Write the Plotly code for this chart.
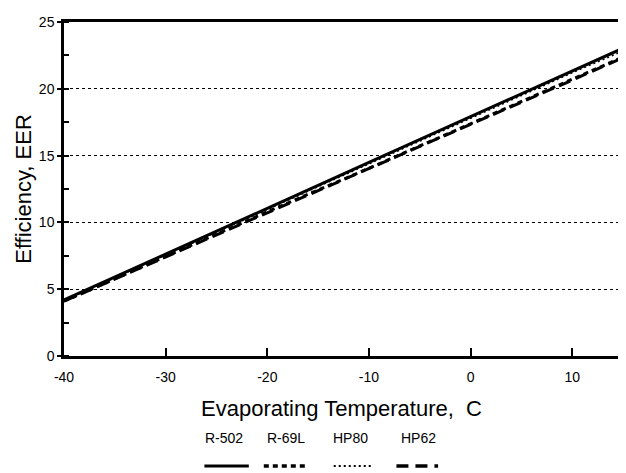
import plotly.graph_objects as go

# Data
temps = [-40, -30, -20, -10, 0, 10, 14.6]
eer_r502 = [4.2, 7.6, 11.05, 14.5, 17.9, 21.35, 22.9]
eer_r69l = [4.1, 7.45, 10.8, 14.05, 17.4, 20.7, 22.25]
eer_hp80 = [4.15, 7.55, 10.95, 14.35, 17.75, 21.2, 22.7]
eer_hp62 = [4.1, 7.4, 10.7, 14.0, 17.35, 20.65, 22.2]

series = [
    ("R-502", eer_r502, dict(color="black", width=3, dash="solid")),
    ("R-69L", eer_r69l, dict(color="black", width=3, dash="5px,4px")),
    ("HP80", eer_hp80, dict(color="black", width=1.5, dash="2px,3px")),
    ("HP62", eer_hp62, dict(color="black", width=3, dash="12px,6px")),
]

x_ticks = [-40, -30, -20, -10, 0, 10]
x_tick_labels = ["-40", "-30", "-20", "-10", "0", "10"]
y_ticks = [0, 5, 10, 15, 20, 25]

fig = go.Figure()
for name, vals, line in series:
    fig.add_trace(go.Scatter(x=temps, y=vals, mode="lines", name=name,
                             line=line, showlegend=False))

font_family = "Liberation Sans, Arial, sans-serif"

fig.update_layout(
    width=618, height=465,
    margin=dict(l=56, r=4, t=14, b=117),
    paper_bgcolor="white", plot_bgcolor="white",
    font=dict(family=font_family, color="black"),
    xaxis=dict(
        range=[-40, 14.6], tickvals=x_ticks, ticktext=x_tick_labels,
        ticks="inside", ticklen=8, tickwidth=1.5, tickcolor="black",
        showline=True, linecolor="black", linewidth=2.5, mirror=True,
        showgrid=False, zeroline=False,
        tickfont=dict(size=14), ticklabelstandoff=6,
        title=dict(text="Evaporating Temperature,  C", font=dict(size=22), standoff=18),
    ),
    yaxis=dict(
        range=[0, 25], tickvals=y_ticks,
        ticks="outside", ticklen=4, tickwidth=1.5, tickcolor="black",
        minor=dict(ticks="inside", dtick=2.5, ticklen=5, tickwidth=1.5, tickcolor="black", showgrid=False),
        showline=True, linecolor="black", linewidth=2.5, mirror=True,
        showgrid=True, gridcolor="black", gridwidth=1, griddash="dot",
        zeroline=False,
        tickfont=dict(size=14),
        title=dict(text="Efficiency, EER", font=dict(size=22), standoff=2),
    ),
)

# Custom legend: labels above line samples
legend_items = [
    ("R-502", 0.288, 0.253, 0.333, dict(color="black", width=3, dash="solid")),
    ("R-69L", 0.400, 0.360, 0.440, dict(color="black", width=3.5, dash="5px,4px")),
    ("HP80", 0.516, 0.486, 0.557, dict(color="black", width=2, dash="2px,3px")),
    ("HP62", 0.638, 0.599, 0.674, dict(color="black", width=3.5, dash="12px,7px")),
]
for label, xc, x0, x1, line in legend_items:
    fig.add_annotation(x=xc, y=-0.2455, xref="paper", yref="paper", text=label,
                       showarrow=False, font=dict(size=14, family=font_family),
                       xanchor="center", yanchor="middle")
    fig.add_shape(type="line", xref="paper", yref="paper", x0=x0, x1=x1,
                  y0=-0.329, y1=-0.329, line=line)

fig.write_html("out.html")
